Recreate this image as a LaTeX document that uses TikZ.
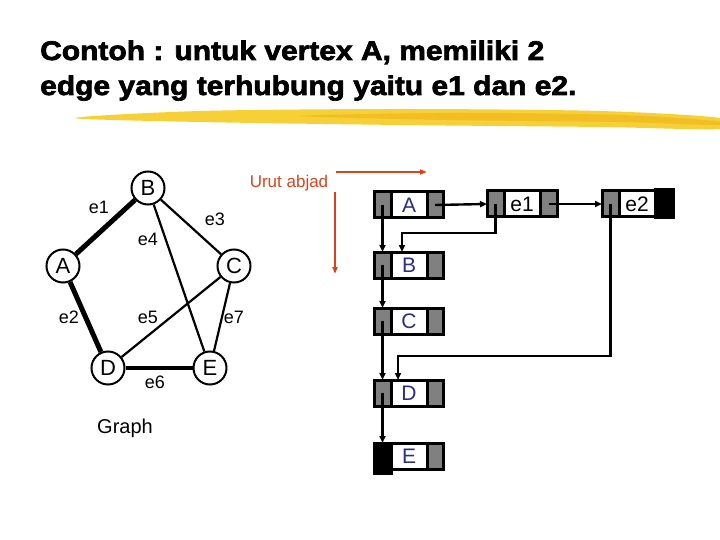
\documentclass[tikz,border=0pt]{standalone}
\usepackage{fontspec}
\setmainfont{Liberation Sans}
\newfontfamily\titlefont[FakeBold=2.5,FakeStretch=1.11]{Liberation Sans Bold}
\usetikzlibrary{arrows.meta,positioning}
\definecolor{cN}{HTML}{2B2E83}
\definecolor{cO}{HTML}{D9441C}
\definecolor{cG}{HTML}{808080}
\definecolor{cY}{HTML}{F7CF36}
\definecolor{cY2}{HTML}{EDB418}
\tikzset{
  vtx/.style={circle,draw,line width=2pt,fill=white,minimum size=33pt,
              inner sep=0pt,font=\fontsize{22}{22}\selectfont},
  elbl/.style={font=\fontsize{18}{18}\selectfont},
  ln/.style={line width=2.2pt},
  heavy/.style={line width=5pt},
  cell/.style={draw,line width=3pt,fill=white,minimum width=36pt,
               minimum height=26pt,inner sep=0pt,outer sep=0pt,
               font=\fontsize{21}{21}\selectfont,text=cN},
  ptr/.style={draw,line width=3pt,fill=cG,minimum width=17pt,
              minimum height=26pt,inner sep=0pt,outer sep=0pt},
  nil/.style={ptr,fill=black},
  link/.style={-{Triangle[length=7pt,width=6pt]},line width=2.4pt},
  order/.style={-{Triangle[length=7pt,width=5pt]},line width=2pt,cO},
}
\begin{document}
\begin{tikzpicture}[x=1pt,y=-1pt]
  \useasboundingbox (0,0) rectangle (720,540);
  % title
  \node[anchor=base west,inner sep=0,font=\titlefont\fontsize{27}{30}\selectfont] (t1) at (40,60)
       {Contoh : untuk vertex A, memiliki 2};
  \node[anchor=base west,inner sep=0,font=\titlefont\fontsize{27}{30}\selectfont] (t2) at (40,95)
       {edge yang terhubung yaitu e1 dan e2.};
  \fill[cY] plot[smooth cycle] coordinates {(75,118) (200,111) (400,109) (600,111) (720,118)
       (720,129) (600,127) (400,125) (200,122)};
  \fill[cY2,opacity=.6] plot[smooth cycle] coordinates {(300,116) (450,113) (620,115) (715,121)
       (715,125) (620,122) (450,120)};

  % graph
  \node[vtx] (B) at (148,188) {B};
  \node[vtx] (A) at (63,266) {A};
  \node[vtx] (C) at (234,266) {C};
  \node[vtx] (D) at (108,368) {D};
  \node[vtx] (E) at (210,368) {E};
  \draw[heavy] (A) -- (B);
  \draw[heavy] (A) -- (D);
  \draw[ln] (B) -- (C);
  \draw[ln] (B) -- (E);
  \draw[ln] (C) -- (D);
  \draw[ln] (C) -- (E);
  \draw[line width=3.2pt] (D) -- (E);
  \node[elbl] (l1) at (99,207) {e1};
  \node[elbl] (l2) at (69,317) {e2};
  \node[elbl] (l3) at (215,219) {e3};
  \node[elbl] (l4) at (148,239) {e4};
  \node[elbl] (l5) at (148,317) {e5};
  \node[elbl] (l6) at (155,382) {e6};
  \node[elbl] (l7) at (234,317) {e7};
  \node[font=\fontsize{20}{20}\selectfont] (cap) at (125,428) {Graph};

  % urutan abjad
  \node[text=cO,font=\fontsize{17}{17}\selectfont] (urut) at (289,183) {Urut abjad};
  \coordinate (h0) at (336,172);
  \coordinate (h1) at (427,172);
  \coordinate (v0) at (335,192);
  \coordinate (v1) at (335,274);
  \draw[order] (h0) -- (h1);
  \draw[order] (v0) -- (v1);

  % vertex list
  \foreach \n/\y in {A/205,B/265,C/321,D/393,E/456}{
    \node[cell] (\n) at (409,\y) {\n};
    \node[ptr,left=0pt of \n] (\n l) {};
    \node[ptr,minimum width=16pt,right=0pt of \n] (\n r) {};
  }
  \node[nil,left=0pt of E,minimum height=30pt,yshift=-2pt] (El) {};
  \node[cell] (E) at (409,456) {E};

  % edge list
  \node[cell,text=black,font=\fontsize{21}{21}\selectfont] (e1) at (522,204) {e1};
  \node[ptr,left=0pt of e1] (e1l) {};
  \node[ptr,right=0pt of e1] (e1r) {};
  \node[cell,text=black,font=\fontsize{21}{21}\selectfont] (e2) at (637,204) {e2};
  \node[ptr,left=0pt of e2] (e2l) {};
  \node[nil,right=0pt of e2,minimum width=18pt,minimum height=28pt] (e2r) {};

  % pointers
  \draw[link] (Al.center) -- (Bl.north);
  \draw[link] (Bl.center) -- (Cl.north);
  \draw[link] (Cl.center) -- (Dl.north);
  \draw[link] (Dl.center) -- (El.north);
  \draw[link] (Ar.center) -- (e1l.west);
  \draw[link] (e1r.center) -- (e2l.west);
  \draw[link] (e1l.center) -- ++(0,29) -| ([xshift=-7pt]B.north);
  \draw[link] (e2l.center) -- ++(0,152) -| ([xshift=-11pt]D.north);
\end{tikzpicture}
\end{document}
